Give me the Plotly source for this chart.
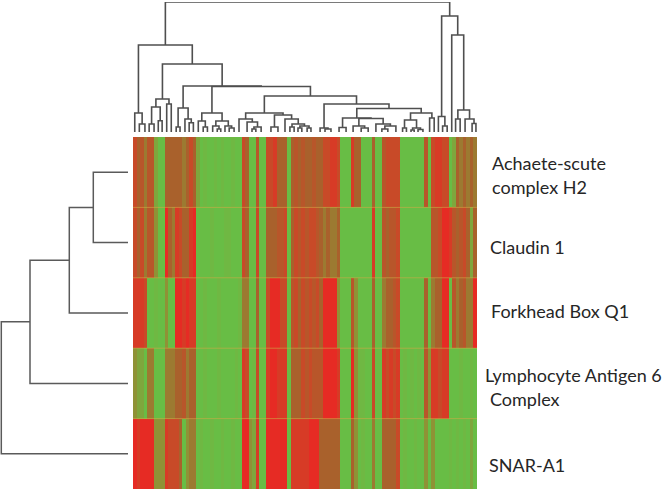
import plotly.graph_objs as go

# heatmap levels, 0 = green, 5 = brown, 9 = red (one number per column, 98 columns)
achaete = [7,5,6,4,6,6,2,0,0,5,5,5,5,5,4,5,7,5,
           2,0,1,0,0,1,0,1,0,0,1,0,0,
           7,5,0,0,6,0,0,7,7,8,5,5,5,0,5,6,5,
           6,5,5,6,5,5,7,7,8,8,7,0,0,0,8,5,5,0,0,0,5,0,0,
           6,7,7,7,7,0,0,0,0,0,0,0,6,0,7,8,8,7,7,0,2,5,4,5,4,5,4]
claudin = [7,5,7,4,6,6,3,0,0,9,5,4,8,7,5,5,8,9,
           0,0,0,0,1,0,0,0,1,1,0,0,0,
           7,5,0,0,7,0,0,5,5,5,6,6,7,0,5,7,6,
           7,6,7,7,6,5,4,5,4,4,5,0,0,0,0,0,0,0,0,0,8,0,0,
           6,5,6,6,7,0,0,0,0,0,0,0,0,0,6,6,7,9,9,8,6,5,6,7,5,2,5]
forkhead = [8,8,8,7,0,0,1,0,0,3,0,0,9,9,8,9,8,8,
            0,0,1,0,0,0,1,0,0,0,0,0,1,
            4,4,0,0,5,0,0,7,9,9,9,7,7,0,6,7,5,
            7,6,7,6,7,5,9,9,9,9,3,0,0,0,6,3,0,0,0,0,5,0,0,
            4,5,5,6,7,0,0,0,0,0,0,0,5,0,4,5,5,9,9,0,6,4,5,6,4,4,9]
lymphocyte = [3,2,2,0,4,4,0,0,0,4,4,4,5,5,6,4,5,5,
              0,0,1,0,0,0,1,0,0,0,0,1,0,
              8,7,0,1,7,0,0,8,9,9,8,8,8,0,5,5,5,
              7,6,7,6,6,6,9,9,9,9,8,0,0,0,9,3,1,1,0,0,7,0,0,
              8,7,8,7,8,0,1,0,1,0,1,0,6,3,8,8,7,8,8,0,0,0,1,0,0,1,0]
snar = [9,8,9,9,9,9,3,3,3,8,7,7,7,5,0,3,4,4,
        0,1,0,0,1,0,0,1,0,0,1,0,0,
        9,9,3,2,8,0,0,9,9,9,9,9,9,0,8,8,8,
        8,8,9,9,9,5,5,5,5,5,5,0,0,0,5,3,0,1,0,0,4,0,0,
        5,5,5,5,7,0,1,0,0,1,0,0,3,0,3,0,0,0,0,1,0,1,0,1,0,2,0]
heat_rows = [achaete, claudin, forkhead, lymphocyte, snar]

labels = ["Achaete-scute", "complex H2", "Claudin 1", "Forkhead Box Q1",
          "Lymphocyte Antigen 6", "Complex", "SNAR-A1"]
label_x = [491, 491, 489, 490, 484, 489, 488]
label_y = [163, 187, 247, 311, 375, 399, 465]

# dendrograms as (height, left, right); a bare number is the column/row of a leaf
cluster_a = (19, 0.0, (8, 1.3, 2.9))
cluster_b = (33, (25, (8, 4.1, 5.5), (11.3, 6.7, 7.8)), (28, 9.1, 10.4))
cluster_c = (24, (5, 11.8, 12.9), (13, 14.3, (9.3, 15.5, 16.7)))
cluster_d = (19, (11, 18.1, (5, 19.5, 20.7)),
             (11, (6, 22.2, (3, 23.5, 24.5)), (6, 25.7, (4, 26.9, 28.3))))
cluster_e = (19, (13, 29.7, (10, 32.0, (5, (3, 33.4, 34.5), 36.0))),
             (17, (5, 38.8, 40.8),
              (13, 42.8, (8, (5, 44.2, 45.4), (6, (4, 46.5, 47.6), (4, 49.1, 50.2))))))
cluster_f = (4, 52.8, (3, 54.2, 55.9))
cluster_g = (14, (4.5, 58.2, 60.2),
             (13.5, (6, 62.2, (4, 64.5, 66.5)),
              (8, 68.7, (6, (3, 70.4, 72.1), 74.4))))
cluster_h = (19, (12, (4, 76.3, 77.4), (4, (2, 78.7, 79.6), (2.5, 80.7, 82.1))),
             (14, 84.0, 85.3))
cluster_i = (36, cluster_e, (28, cluster_f, (23.5, cluster_g, cluster_h)))
cluster_j = (68, cluster_b, (46, cluster_c, (45.5, cluster_d, cluster_i)))
cluster_k = (116, (15.5, 86.5, (6, 87.7, 89.0)),
             (97, 90.3, (22, (13, 91.4, 92.7), (13, 94.1, (8.5, 96.1, 97.2)))))
top_tree = (130, (87, cluster_a, cluster_j), cluster_k)

left_tree = (126.7, (98, (58.7, (34.7, 0, 1), 2), 3), 4)


def tree_lines(node, xs, hs):
    # returns position and height of the node, adds its bracket to xs/hs
    if not isinstance(node, tuple):
        return node, 0
    h, left, right = node
    x1, h1 = tree_lines(left, xs, hs)
    x2, h2 = tree_lines(right, xs, hs)
    xs += [x1, x1, x2, x2, None]
    hs += [h1, h, h, h2, None]
    return (x1 + x2) / 2, h


top_x, top_h = [], []
tree_lines(top_tree, top_x, top_h)
left_y, left_h = [], []
tree_lines(left_tree, left_y, left_h)

W, H = 665, 490

fig = go.Figure()

fig.add_trace(go.Heatmap(
    z=heat_rows,
    zmin=0,
    zmax=9,
    showscale=False,
    hoverinfo='skip',
    colorscale=[[0, '#68bd45'], [0.12, '#70b843'], [0.33, '#8f9336'],
                [0.55, '#a8622c'], [0.78, '#c84a28'], [1, '#e62b24']],
    xaxis='x',
    yaxis='y'
))

fig.add_trace(go.Scatter(
    x=top_x,
    y=top_h,
    mode='lines',
    line=dict(color='#4f4f4f', width=1.6),
    cliponaxis=False,
    hoverinfo='skip',
    xaxis='x',
    yaxis='y2'
))

fig.add_trace(go.Scatter(
    x=left_h,
    y=left_y,
    mode='lines',
    line=dict(color='#5a5a5a', width=1.5),
    cliponaxis=False,
    hoverinfo='skip',
    xaxis='x2',
    yaxis='y'
))

fig.update_layout(
    width=W,
    height=H,
    margin=dict(l=0, r=0, t=0, b=0),
    paper_bgcolor='white',
    plot_bgcolor='white',
    showlegend=False,
    xaxis=dict(domain=[133 / W, 477 / W], range=[-0.5, 97.5], visible=False),
    yaxis=dict(domain=[1 - 489 / H, 1 - 137 / H], range=[4.5, -0.5], visible=False),
    xaxis2=dict(domain=[0, 128 / W], range=[128, 0], visible=False, anchor='y'),
    yaxis2=dict(domain=[1 - 132 / H, 1 - 2 / H], range=[0, 130], visible=False, anchor='x')
)

# faint lines between the rows
for edge in [0.5, 1.5, 2.5, 3.5]:
    fig.add_shape(type='line', xref='x', yref='y', x0=-0.5, x1=97.5, y0=edge, y1=edge,
                  line=dict(color='rgba(205,170,70,0.6)', width=1))

for text, lx, ly in zip(labels, label_x, label_y):
    fig.add_annotation(
        text=text,
        x=lx / W,
        y=1 - ly / H,
        xref='paper',
        yref='paper',
        xanchor='left',
        yanchor='middle',
        showarrow=False,
        borderpad=0,
        font=dict(family='Lato', size=18, color='#262626')
    )

# page has a default body margin, the figure has to sit in the corner
fig.write_html("out.html", config=dict(displayModeBar=False),
               post_script="document.body.style.margin='0';")
